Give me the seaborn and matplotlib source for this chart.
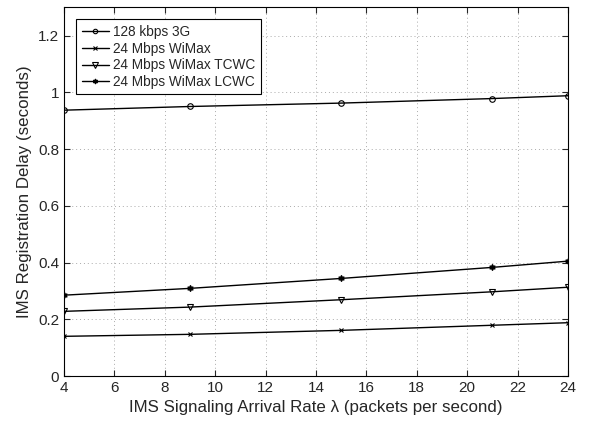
import matplotlib
matplotlib.use('Agg')
import matplotlib.pyplot as plt
import seaborn as sns
import pandas as pd

# Data
rate = [4, 9, 15, 21, 24]
delay_3g = [0.937, 0.950, 0.962, 0.978, 0.988]
delay_wimax = [0.140, 0.147, 0.161, 0.179, 0.188]
delay_tcwc = [0.228, 0.243, 0.269, 0.297, 0.313]
delay_lcwc = [0.285, 0.309, 0.344, 0.383, 0.405]
labels = ['128 kbps 3G', '24 Mbps WiMax', '24 Mbps WiMax TCWC', '24 Mbps WiMax LCWC']

sns.set_style('ticks')
plt.rcParams['font.family'] = ['Liberation Sans', 'DejaVu Sans']

fig = plt.figure(figsize=(6.03, 4.23), dpi=100)
ax = fig.add_axes([0.106, 0.111, 0.836, 0.872])

series = [delay_3g, delay_wimax, delay_tcwc, delay_lcwc]
markers = ['o', 'x', 'v', (6, 1, 0)]
sizes = [4, 3, 5, 4.5]
faces = ['none', 'k', 'none', 'k']
for vals, lab, m, ms, fc in zip(series, labels, markers, sizes, faces):
    df = pd.DataFrame({'rate': rate, 'delay': vals})
    sns.lineplot(data=df, x='rate', y='delay', ax=ax, color='k', lw=1.0,
                 marker=m, markersize=ms, markerfacecolor=fc,
                 markeredgecolor='k', markeredgewidth=0.8, label=lab)

ax.set_xlim(4, 24)
ax.set_ylim(0, 1.3)
ax.set_xticks(range(4, 25, 2))
ax.set_yticks([0, 0.2, 0.4, 0.6, 0.8, 1.0, 1.2])
ax.set_yticklabels(['0', '0.2', '0.4', '0.6', '0.8', '1', '1.2'])
ax.grid(True, linestyle=(0, (1, 3)), color='#aaaaaa', lw=0.7)
ax.tick_params(direction='in', labelsize=11, top=True, right=True, length=4)
for s in ax.spines.values():
    s.set_visible(True)
    s.set_color('k')
    s.set_linewidth(0.8)
ax.set_xlabel('IMS Signaling Arrival Rate λ (packets per second)', fontsize=12.2)
ax.set_ylabel('IMS Registration Delay (seconds)', fontsize=12.2)

leg = ax.legend(loc='upper left', fontsize=9.8, fancybox=False, framealpha=1,
                edgecolor='k', handlelength=2.0, borderaxespad=0.9,
                labelspacing=0.2, handletextpad=0.3, borderpad=0.4,
                markerscale=0.8)
leg.get_frame().set_linewidth(0.8)

fig.savefig('out.png', dpi=100)
